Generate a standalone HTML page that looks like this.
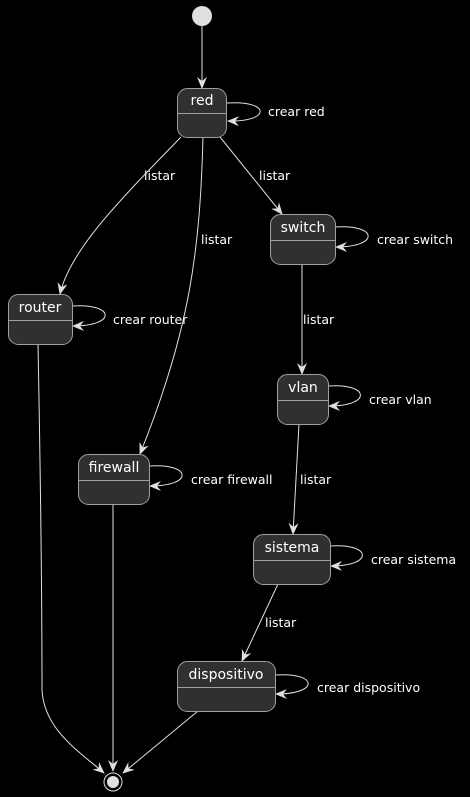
<!DOCTYPE html>
<html><head><meta charset="utf-8"><style>
html,body{margin:0;padding:0;background:#000;}
svg{display:block;}
text{font-family:"DejaVu Sans","Liberation Sans",sans-serif;fill:#fff;}
</style></head><body>
<svg width="470" height="797" viewBox="0 0 470 797" xmlns="http://www.w3.org/2000/svg">
<defs>
<marker id="a" viewBox="0 0 12 10" refX="11" refY="5" markerWidth="12" markerHeight="10" markerUnits="userSpaceOnUse" orient="auto">
<path d="M0,0 L12,5 L0,10 L4,5 Z" fill="#e0e0e0"/>
</marker>
</defs>
<g stroke="#e0e0e0" stroke-width="1" fill="none" marker-end="url(#a)">
<path d="M202,26 L202,88"/>
<path d="M227,103 C270,100 272,122 228,121"/>
<path d="M181,137 C120,200 70,250 60,294"/>
<path d="M203,137 C200,250 190,330 140,454"/>
<path d="M220,137 L282,214"/>
<path d="M335,227 C378,224 380,247 336,247"/>
<path d="M72,306 C115,303 117,326 73,326"/>
<path d="M302,264 L302,374"/>
<path d="M328,386 C370,383 372,406 329,406"/>
<path d="M149,466 C192,463 194,486 150,486"/>
<path d="M299,424 L293,534"/>
<path d="M330,546 C372,543 374,566 331,566"/>
<path d="M278,584 L242,661"/>
<path d="M275,675 C318,672 320,694 276,694"/>
<path d="M38,344 C40,450 42,560 42,690 C44,730 80,752 104,773"/>
<path d="M113,504 L113,771"/>
<path d="M198,711 L123,773"/>
</g>
<circle cx="202" cy="16" r="10" fill="#e0e0e0"/>
<circle cx="113" cy="782" r="9" fill="none" stroke="#e0e0e0" stroke-width="1"/>
<circle cx="113" cy="782" r="6" fill="#e0e0e0"/>
<g fill="#303030" stroke="#a0a0a0" stroke-width="1">
<rect x="177.5" y="88.5" width="49" height="49" rx="10"/>
<rect x="270.5" y="214.5" width="65" height="50" rx="10"/>
<rect x="8.5" y="294.5" width="64" height="50" rx="10"/>
<rect x="277.5" y="374.5" width="51" height="50" rx="10"/>
<rect x="78.5" y="454.5" width="71" height="50" rx="10"/>
<rect x="253.5" y="534.5" width="77" height="50" rx="10"/>
<rect x="177.5" y="661.5" width="98" height="50" rx="10"/>
<path d="M177.5,113.5H226.5M270.5,240.5H335.5M8.5,320.5H72.5M277.5,400.5H328.5M78.5,480.5H149.5M253.5,560.5H330.5M177.5,687.5H275.5"/>
</g>
<g font-size="14" text-anchor="middle">
<text x="202" y="105">red</text>
<text x="303" y="232">switch</text>
<text x="40" y="312">router</text>
<text x="303" y="392">vlan</text>
<text x="114" y="472">firewall</text>
<text x="292" y="552">sistema</text>
<text x="226" y="679">dispositivo</text>
</g>
<g font-size="12.5">
<text x="268" y="116">crear red</text>
<text x="377" y="244">crear switch</text>
<text x="113" y="324">crear router</text>
<text x="369" y="404">crear vlan</text>
<text x="191" y="484">crear firewall</text>
<text x="371" y="564">crear sistema</text>
<text x="317" y="692">crear dispositivo</text>
<text x="144" y="180">listar</text>
<text x="259" y="180">listar</text>
<text x="201" y="244">listar</text>
<text x="303" y="324">listar</text>
<text x="300" y="484">listar</text>
<text x="265" y="627">listar</text>
</g>
</svg>
</body></html>
